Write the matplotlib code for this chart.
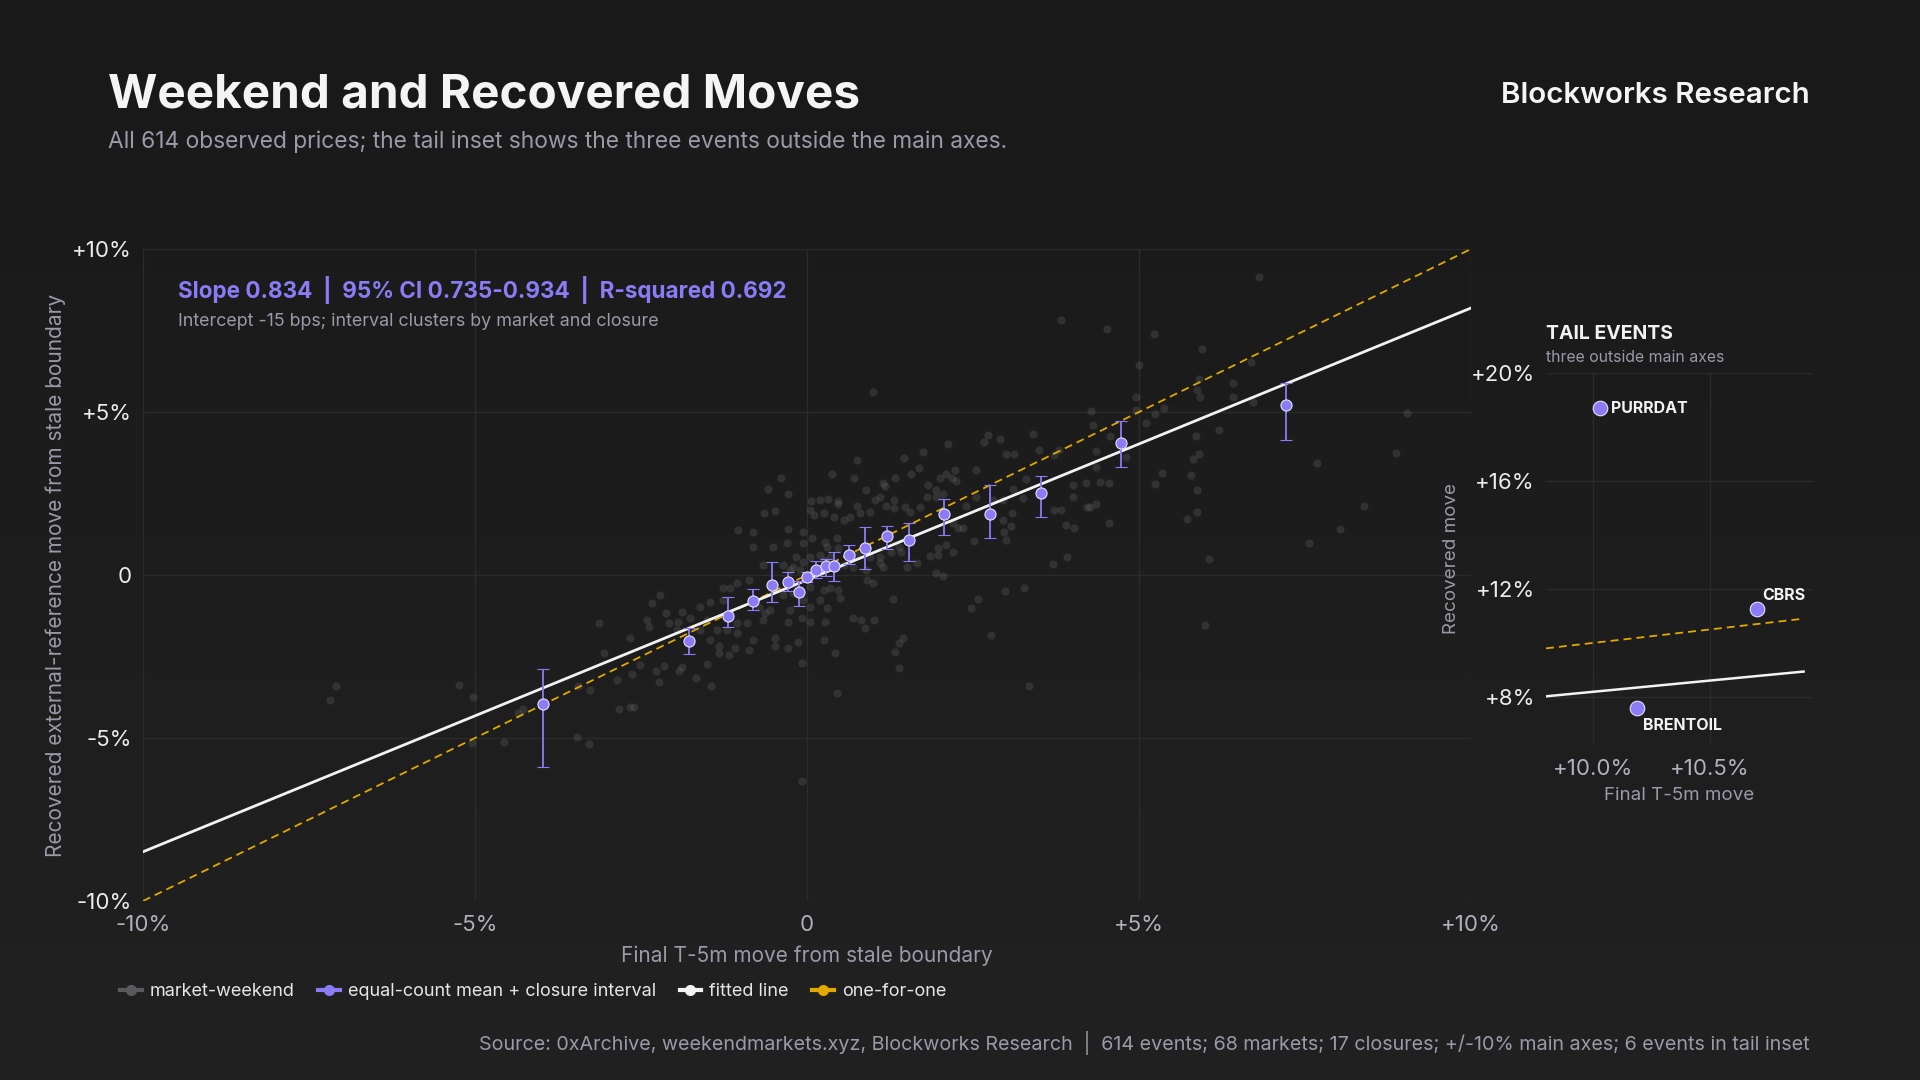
import matplotlib
matplotlib.use('Agg')
import matplotlib.pyplot as plt
from matplotlib.lines import Line2D
from matplotlib.ticker import FixedLocator, FuncFormatter
import numpy as np

plt.rcParams['font.family'] = ['Inter', 'DejaVu Sans']

# market-weekend events inside the +/-10% window (percent moves)
weekend_x = [
    2.72, 2.66, 2.90, 3.40, 2.12, 1.75, 1.46, 0.75, 3.00, 3.12, 3.49, 3.80, 3.72, 2.55, 2.23, 2.10, 2.01, 2.19, 2.25, 1.69, 1.57, 1.32, 1.15, 1.17, 1.10,
    1.02, 0.37, 0.71, 0.89, 1.82, 1.95, 2.05, 3.30, 4.00, 4.20, 3.10, -0.39, -0.59, -0.29, 0.06, 0.20, 0.32, 0.46, 0.47, 0.75, 0.80, 0.95, 1.19, 1.31, 1.31,
    1.47, 1.55, 1.70, 1.80, 1.95, 2.40, 2.55, 2.80, 2.95, 3.09, 3.25, 3.72, 3.82, 4.22, 4.00, 2.95, 3.07, 2.97, 3.00, 3.90, 4.02, 3.92, 3.70, 2.52, 2.27,
    2.20, 2.35, 2.10, 2.20, 1.97, 1.85, 1.97, 2.05, 1.95, 1.65, 1.42, 1.38, 1.10, 1.10, 0.95, 0.75, 0.70, 0.55, 0.90, 1.00, 0.89, 1.27, 1.15, 1.50,
    -0.65, -0.48, 0.05, 0.11, 0.25, 0.40, 0.55, 0.65, -1.04, -0.81, -0.29, -0.06, 0.07, 0.27, 0.30, 0.45, 0.47, -0.51, -0.82, -0.30, -0.06, -0.16, -0.06, 0.05, 0.20,
    0.25, 0.35, -0.21, -0.26, -0.11, -0.36, -0.66, -0.88, -1.06, -1.16, -1.26, -0.53, -0.36, -0.21, 0.05, 0.25, 0.35, 0.47, 0.20, 0.05, -0.06, -0.26, -0.56, -0.63, -0.73,
    -0.66, -0.91, -1.06, -1.06, -1.21, -1.36, -1.46, -1.26, -1.51, -1.61, -1.46, -1.33, -1.33, -1.18, -1.08, -0.88, -0.81, -0.48, -0.48, -0.29, -0.13, -0.28, -0.08, 0.05, 0.27,
    0.30, 0.50, 0.42, -0.08, 0.45, 0.25, 0.70, 0.82, 0.87, 1.01, 1.29, 1.45, 1.39, 1.32, 1.39, 2.77, 2.47, 2.57, 2.98, 3.27, 3.35, -2.38, -2.33, -2.22, -2.08,
    -1.95, -1.88, -1.76, -1.61, -2.66, -2.41, -2.86, -2.63, -2.51, -2.28, -2.23, -2.16, -1.93, -1.88, -1.67, -1.51, -1.45, -3.06, -3.13, -2.13, -1.96,
    6.81, 3.83, 4.52, 5.22, 5.95, 5.00, 6.69, 5.91, 5.87, 5.92, 6.42, 6.42, 6.71, 4.96, 4.96, 5.24, 5.38, 5.10, 6.21, 5.86, 4.27, 4.31, 4.56,
    4.35, 4.81, 4.35, 4.41, 4.55, 4.26, 4.35, 4.55, 5.81, 5.90, 5.34, 5.78, 5.24, 5.88, 5.72, 5.88, 6.06, 7.68, 8.87, 9.03, 8.39, 8.03, 7.56,
    -7.09, -7.19, -5.24, -5.03, -4.27, -4.35, -5.05, -4.56, -3.45, -3.27, -3.47, -3.29,
    0.99, 5.99, -2.83, -2.67, -2.61, -0.08,
]
weekend_y = [
    4.29, 4.08, 4.16, 4.31, 4.03, 3.76, 3.60, 3.54, 3.72, 3.70, 3.83, 3.83, 3.67, 3.21, 3.23, 3.09, 2.99, 2.99, 2.88, 3.27, 3.11, 2.98, 2.83, 2.72, 2.40,
    2.30, 3.11, 2.99, 2.62, 2.76, 2.60, 2.50, 2.96, 2.76, 2.81, 2.65, 2.99, 2.65, 2.47, 2.26, 2.30, 2.34, 2.28, 2.17, 2.11, 1.89, 1.94, 2.11, 2.30, 2.07,
    2.09, 1.94, 2.09, 2.40, 2.40, 2.11, 2.40, 2.30, 2.30, 1.89, 2.35, 1.99, 1.99, 2.09, 2.40, 1.68, 1.50, 1.33, 1.07, 1.53, 1.43, 0.56, 0.33, 1.05, 1.43,
    1.58, 1.43, 0.92, 0.71, 0.82, 0.58, 0.61, -0.02, 0.07, 0.36, 0.71, 0.87, 0.56, 0.36, 0.56, 0.61, 0.26, 0.31, -0.15, -0.26, 0.15, 0.71, 0.26, 0.26,
    1.89, 1.96, 1.99, 1.84, 1.89, 1.79, 1.68, 1.79, 1.38, 1.33, 1.40, 1.33, 1.12, 1.02, 0.87, 1.12, 0.82, 0.87, 0.87, 0.99, 0.97, 0.56, 0.41, 0.56, 0.61,
    0.46, 0.56, 0.26, 0.15, 0.15, 0.31, 0.31, -0.15, -0.26, -0.41, -0.41, -0.46, -0.61, -0.56, -0.36, -0.46, -0.41, -0.46, -0.77, -0.97, -0.77, -1.07, -1.07, -1.17, -0.97,
    -1.38, -1.48, -1.48, -1.79, -1.68, -1.68, -0.82, -0.77, -1.38, -1.68, -1.99, -2.19, -2.40, -2.45, -2.24, -2.30, -1.99, -1.94, -2.19, -2.24, -2.07, -1.43, -1.33, -1.43, -1.43,
    -1.02, -0.71, -2.40, -2.70, -3.62, -1.99, -1.33, -1.38, -1.63, -1.38, -0.74, -1.94, -2.09, -2.35, -2.86, -1.84, -1.02, -0.74, -0.49, -0.41, -3.40, -1.58, -0.85, -0.61, -1.46,
    -1.43, -1.14, -1.33, -0.97, -1.94, -1.38, -3.21, -3.04, -2.76, -2.96, -3.27, -2.78, -2.96, -2.83, -3.16, -2.72, -3.39, -2.40, -1.48, -1.17, -1.68,
    9.15, 7.82, 7.55, 7.38, 6.93, 6.45, 6.53, 6.00, 5.67, 5.46, 5.90, 5.45, 5.30, 5.45, 5.06, 4.94, 5.11, 4.65, 4.45, 4.27, 5.04, 4.60, 4.27,
    3.80, 3.63, 3.30, 2.84, 2.83, 2.08, 2.18, 1.58, 3.55, 3.71, 3.12, 3.06, 2.78, 2.61, 1.73, 1.94, 0.48, 3.45, 3.75, 4.98, 2.13, 1.42, 0.99,
    -3.40, -3.83, -3.38, -3.73, -4.11, -4.22, -5.14, -5.11, -3.40, -3.53, -4.96, -5.18,
    5.61, -1.53, -4.11, -4.05, -4.05, -6.32,
]

# equal-count bin means with closure-clustered intervals
bin_x = [-3.97, -1.78, -1.19, -0.81, -0.52, -0.28, -0.12, 0.00, 0.13, 0.28, 0.41, 0.64, 0.88, 1.21, 1.54, 2.06, 2.75, 3.53, 4.73, 7.22]
bin_y = [-3.96, -2.02, -1.26, -0.81, -0.31, -0.21, -0.53, -0.06, 0.15, 0.28, 0.28, 0.61, 0.83, 1.20, 1.06, 1.87, 1.86, 2.51, 4.04, 5.20]
bin_lo = [-5.90, -2.43, -1.59, -1.07, -0.84, -0.49, -0.95, -0.22, -0.10, -0.03, -0.19, 0.34, 0.17, 0.79, 0.42, 1.22, 1.13, 1.77, 3.30, 4.13]
bin_hi = [-2.89, -1.62, -0.67, -0.42, 0.41, 0.10, -0.18, 0.10, 0.44, 0.50, 0.71, 0.93, 1.48, 1.51, 1.60, 2.32, 2.77, 3.05, 4.71, 5.88]

slope = 0.834
intercept = -0.15  # percent

# tail events outside the main axes
tail_names = ['PURRDAT', 'CBRS', 'BRENTOIL']
tail_x = [10.03, 10.70, 10.19]
tail_y = [18.7, 11.26, 7.6]

BG = '#1b1b1b'
PURPLE = '#8b7cf6'
GOLD = '#e0a800'
WHITE = '#f2f2f2'
GRAY_TXT = '#9c99a8'
GRID = '#2b2b2b'

fig = plt.figure(figsize=(19.2, 10.8), dpi=100)
fig.patch.set_facecolor(BG)

# subtle vertical gradient behind everything
bg = fig.add_axes([0, 0, 1, 1])
grad = np.linspace(0, 1, 256).reshape(-1, 1)
bg.imshow(grad, aspect='auto', extent=[0, 1, 0, 1], origin='upper',
          cmap=matplotlib.colors.LinearSegmentedColormap.from_list('bg', ['#191919', '#212121']))
bg.axis('off')


def pct(v, _pos=None):
    if abs(v) < 1e-9:
        return '0'
    return f'{v:+.0f}%'


# ---- main axes
ax = fig.add_axes([143 / 1920, 1 - 901 / 1080, 1328 / 1920, 652 / 1080])
ax.set_facecolor('none')
ax.set_xlim(-10, 10)
ax.set_ylim(-10, 10)
for s in ax.spines.values():
    s.set_visible(False)
ticks = [-10, -5, 0, 5, 10]
ax.xaxis.set_major_locator(FixedLocator(ticks))
ax.yaxis.set_major_locator(FixedLocator(ticks))
ax.xaxis.set_major_formatter(FuncFormatter(pct))
ax.yaxis.set_major_formatter(FuncFormatter(pct))
ax.grid(True, color=GRID, lw=1)
ax.set_axisbelow(True)
ax.tick_params(length=0, labelsize=16)
ax.tick_params(axis='x', colors='#b3b0bd', pad=10)
ax.tick_params(axis='y', colors='#ececec', pad=8)

ax.scatter(weekend_x, weekend_y, s=34, color='#6e6e6e', alpha=0.27, lw=0, zorder=2)

xs = np.array([-10, 10])
ax.plot(xs, xs, color=GOLD, lw=1.3, dashes=(4.4, 2.8), zorder=3)
ax.plot(xs, slope * xs + intercept, color=WHITE, lw=2.0, zorder=4)

bx = np.array(bin_x)
by = np.array(bin_y)
yerr = [by - np.array(bin_lo), np.array(bin_hi) - by]
ax.errorbar(bx, by, yerr=yerr, fmt='o', color=PURPLE, ms=8, mfc=PURPLE, mec='#e4e0ff', mew=0.8,
            elinewidth=1.3, capsize=4, capthick=1.3, zorder=5)

ax.set_xlabel('Final T-5m move from stale boundary', color=GRAY_TXT, fontsize=15, labelpad=8)
ax.set_ylabel('Recovered external-reference move from stale boundary', color=GRAY_TXT, fontsize=15, labelpad=4)

ax.text(35 / 1328, (901 - 290) / 652, 'Slope 0.834  |  95% CI 0.735-0.934  |  R-squared 0.692',
        transform=ax.transAxes, color=PURPLE, fontsize=16.2, fontweight='bold', va='center', ha='left')
ax.text(35 / 1328, (901 - 321) / 652, 'Intercept -15 bps; interval clusters by market and closure',
        transform=ax.transAxes, color=GRAY_TXT, fontsize=12.9, va='center', ha='left')

# ---- tail inset
ax2 = fig.add_axes([1546 / 1920, 1 - 745 / 1080, 267 / 1920, 372 / 1080])
ax2.set_facecolor('none')
ax2.set_xlim(9.80, 10.94)
ax2.set_ylim(6.22, 20)
for s in ax2.spines.values():
    s.set_visible(False)
ax2.xaxis.set_major_locator(FixedLocator([10.0, 10.5]))
ax2.yaxis.set_major_locator(FixedLocator([8, 12, 16, 20]))
ax2.xaxis.set_major_formatter(FuncFormatter(lambda v, p: f'{v:+.1f}%'))
ax2.yaxis.set_major_formatter(FuncFormatter(lambda v, p: f'{v:+.0f}%'))
ax2.grid(True, color=GRID, lw=1)
ax2.set_axisbelow(True)
ax2.tick_params(length=0, labelsize=16)
ax2.tick_params(axis='x', colors='#b3b0bd', pad=10)
ax2.tick_params(axis='y', colors='#ececec', pad=8)

tx = np.array([9.80, 10.90])
ax2.plot(tx, tx, color=GOLD, lw=1.3, dashes=(4.4, 2.8), zorder=3)
ax2.plot(tx, slope * tx + intercept, color=WHITE, lw=1.8, zorder=4)
ax2.scatter(tail_x, tail_y, s=110, color=PURPLE, edgecolor='#e4e0ff', lw=0.8, zorder=5)
offsets = [(8, 0), (4, 10), (4, -13)]
for name, x, y, (dx, dy) in zip(tail_names, tail_x, tail_y, offsets):
    ax2.annotate(name, (x, y), xytext=(dx, dy), textcoords='offset points', ha='left', va='center',
                 color='#f2f2f2', fontsize=11.5, fontweight='bold')
ax2.set_xlabel('Final T-5m move', color=GRAY_TXT, fontsize=13.5, labelpad=6)
ax2.set_ylabel('Recovered move', color=GRAY_TXT, fontsize=13.5, labelpad=8)
fig.text(1546 / 1920, 1 - 334 / 1080, 'TAIL EVENTS', color='#f2f2f2', fontsize=14, fontweight='bold',
         va='center', ha='left')
fig.text(1546 / 1920, 1 - 358 / 1080, 'three outside main axes', color=GRAY_TXT, fontsize=11.4,
         va='center', ha='left')

# ---- titles
fig.text(108 / 1920, 1 - 107 / 1080, 'Weekend and Recovered Moves', color='#f4f4f4', fontsize=34.3,
         fontweight='bold', va='baseline', ha='left')
fig.text(108 / 1920, 1 - 148 / 1080,
         'All 614 observed prices; the tail inset shows the three events outside the main axes.',
         color=GRAY_TXT, fontsize=16.4, va='baseline', ha='left')
fig.text(1810 / 1920, 1 - 95 / 1080, 'Blockworks Research', color='#f4f4f4', fontsize=21.3,
         fontweight='semibold', va='center', ha='right')

# ---- legend
handles = [
    Line2D([], [], color='#5a5a5e', lw=3, marker='o', ms=7),
    Line2D([], [], color=PURPLE, lw=3, marker='o', ms=7),
    Line2D([], [], color=WHITE, lw=3, marker='o', ms=7),
    Line2D([], [], color=GOLD, lw=3, marker='o', ms=7),
]
labels = ['market-weekend', 'equal-count mean + closure interval', 'fitted line', 'one-for-one']
fig.legend(handles, labels, loc='center left', bbox_to_anchor=(120 / 1920, 1 - 992 / 1080), ncol=4,
           frameon=False, handlelength=1.2, handletextpad=0.45, columnspacing=1.3, borderpad=0,
           borderaxespad=0, fontsize=13, labelcolor='#e6e6e6')

# ---- footer
fig.text(1810 / 1920, 1 - 1043 / 1080,
         'Source: 0xArchive, weekendmarkets.xyz, Blockworks Research  |  614 events; 68 markets; 17 closures; +/-10% main axes; 6 events in tail inset',
         color=GRAY_TXT, fontsize=14.2, va='center', ha='right')

fig.savefig('out.png', dpi=100, facecolor=fig.get_facecolor())
